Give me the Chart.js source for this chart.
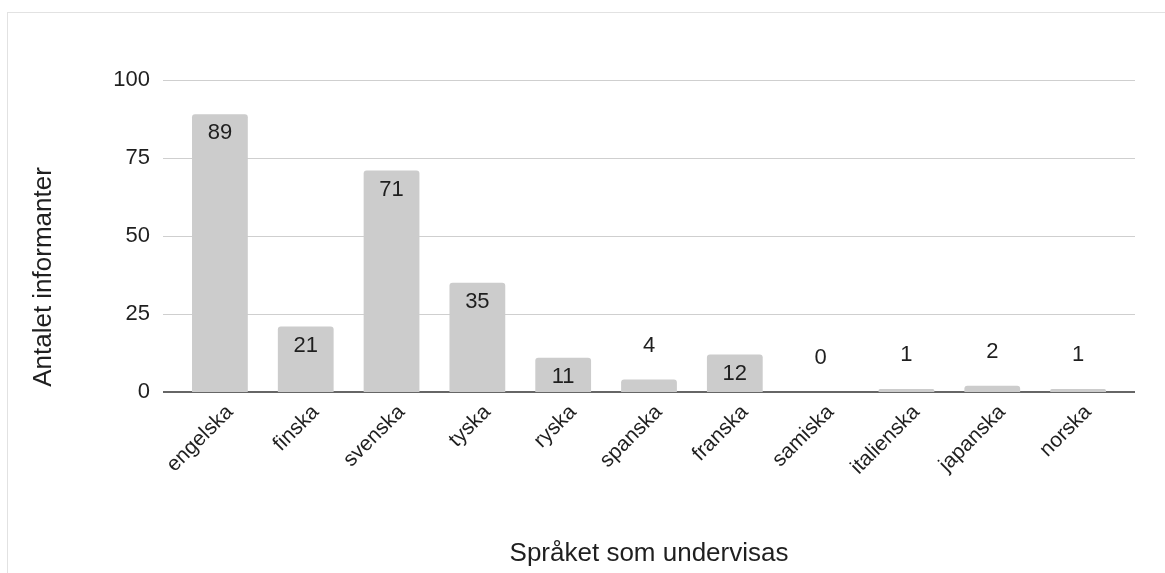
<!DOCTYPE html>
<html>
<head>
<meta charset="utf-8">
<script src="https://cdn.jsdelivr.net/npm/chart.js@4/dist/chart.umd.min.js"></script>
<style>
    body { margin: 0; background: #fff; overflow: hidden; }
    #frame { position: absolute; left: 7px; top: 12px; width: 1200px; height: 600px; border: 1px solid #e2e2e2; }
    #wrap { position: absolute; left: 0; top: 0; width: 1165px; height: 573px; }
</style>
</head>
<body>
<div id="frame"></div>
<div id="wrap"><canvas id="chart"></canvas></div>
<script>
const languages = ["engelska", "finska", "svenska", "tyska", "ryska", "spanska", "franska", "samiska", "italienska", "japanska", "norska"];
const informants = [89, 21, 71, 35, 11, 4, 12, 0, 1, 2, 1];
const yTicks = [0, 25, 50, 75, 100];
const xTitle = "Språket som undervisas";
const yTitle = "Antalet informanter";

const FONT = "Arial, 'Liberation Sans', sans-serif";
const INK = '#1f1f1f';

// grid lines run a bit past the plot area on both sides, like the original
const gridPlugin = {
    id: 'grid',
    beforeDatasetsDraw(chart) {
        const ctx = chart.ctx, y = chart.scales.y, area = chart.chartArea;
        ctx.save();
        yTicks.forEach(v => {
            const py = Math.round(y.getPixelForValue(v));
            ctx.beginPath();
            ctx.strokeStyle = v === 0 ? '#333' : '#cfcfcf';
            ctx.lineWidth = v === 0 ? 1.5 : 1;
            ctx.moveTo(area.left - 14, v === 0 ? py : py + 0.5);
            ctx.lineTo(area.right + 14, v === 0 ? py : py + 0.5);
            ctx.stroke();
        });
        ctx.restore();
    }
};

const labelPlugin = {
    id: 'labels',
    afterDatasetsDraw(chart) {
        const ctx = chart.ctx, meta = chart.getDatasetMeta(0);
        ctx.save();
        ctx.font = "22px " + FONT;
        ctx.fillStyle = INK;
        ctx.textAlign = 'center';
        ctx.textBaseline = 'middle';
        meta.data.forEach((bar, i) => {
            const v = informants[i];
            const y = v >= 10 ? bar.y + 19 : bar.y - 34;
            ctx.fillText(String(v), bar.x, y);
        });
        // y axis title
        ctx.translate(44, 277);
        ctx.rotate(-Math.PI / 2);
        ctx.font = "26px " + FONT;
        ctx.fillText(yTitle, 0, 0);
        ctx.restore();
    }
};

new Chart(document.getElementById("chart").getContext("2d"), {
    type: 'bar',
    data: {
        labels: languages,
        datasets: [{
            data: informants,
            backgroundColor: '#cccccc',
            borderRadius: { topLeft: 3, topRight: 3 },
            borderSkipped: 'start',
            barPercentage: 0.65,
            categoryPercentage: 1
        }]
    },
    options: {
        responsive: true,
        maintainAspectRatio: false,
        animation: false,
        layout: { padding: { top: 80, right: 44, left: 0, bottom: 0 } },
        plugins: { legend: { display: false }, tooltip: { enabled: false } },
        scales: {
            x: {
                grid: { display: false },
                border: { display: false },
                ticks: {
                    color: INK, font: { family: FONT, size: 21 },
                    minRotation: 45, maxRotation: 45, padding: 0, labelOffset: 10
                },
                title: {
                    display: true, text: xTitle, color: INK,
                    font: { family: FONT, size: 26 }, padding: { top: 22 }
                },
                afterFit(scale) { scale.height = 181; }
            },
            y: {
                min: 0, max: 100,
                grid: { display: false },
                border: { display: false },
                afterBuildTicks(scale) { scale.ticks = yTicks.map(v => ({ value: v })); },
                ticks: { color: INK, font: { family: FONT, size: 22 }, padding: 19 },
                afterFit(scale) { scale.width = 177; }
            }
        }
    },
    plugins: [gridPlugin, labelPlugin]
});
</script>
</body>
</html>
